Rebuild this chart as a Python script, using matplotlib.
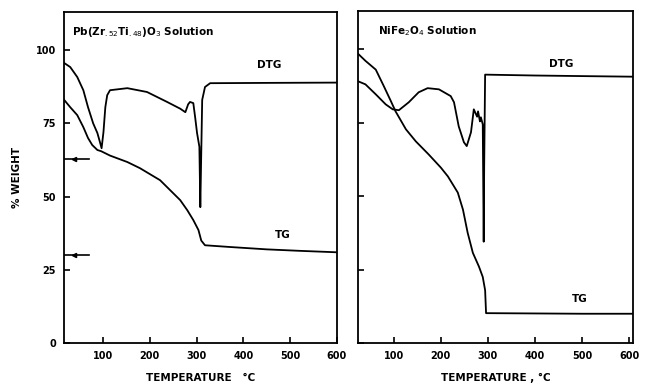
import matplotlib.pyplot as plt

# Left panel: Pb(Zr.52Ti.48)O3 solution
pzt_tg_t = [17, 30, 45, 58, 68, 77, 88, 96, 115, 152, 179, 222, 265, 280, 293, 304, 310, 318, 372, 450, 520, 600]
pzt_tg_w = [83, 80.5, 77.8, 73.7, 70, 67.6, 65.9, 65.5, 64, 61.8, 59.7, 55.6, 48.8, 45.4, 42, 38.6, 35, 33.4, 32.8, 32,
            31.5, 31]

pzt_dtg_t = [17, 30, 45, 58, 68, 79, 88, 94, 97, 101, 105, 109, 115, 152, 194, 237, 265, 276, 282, 286, 293, 297, 301,
             306, 308, 310, 312, 318, 329, 450, 600]
pzt_dtg_w = [95.6, 94.2, 90.8, 86.3, 80.5, 75, 71.7, 68.3, 66.5, 72, 80.5, 84.6, 86.3, 87, 85.7, 82.3, 80, 78.8, 81.5,
             82.3, 81.9, 77, 71.7, 67, 46.4, 65, 83, 87.4, 88.7, 88.8, 88.9]

# Right panel: NiFe2O4 solution
nfo_tg_t = [25, 40, 62, 79, 94, 104, 126, 147, 174, 200, 215, 236, 247, 257, 268, 281, 289, 294, 296, 400, 500, 608]
nfo_tg_w = [98.3, 96, 93, 87.4, 82.3, 78.8, 72.7, 68.6, 64.2, 59.7, 56.7, 51.2, 45.4, 37.5, 30.7, 26, 22.5, 18, 10.2,
            10.1, 10, 10]

nfo_dtg_t = [25, 40, 62, 83, 98, 111, 132, 153, 172, 196, 221, 228, 238, 249, 255, 264, 270, 277, 279, 283, 285, 289,
             290, 291, 292, 294, 400, 500, 608]
nfo_dtg_w = [89, 88, 84.6, 81.2, 79.5, 79.2, 81.9, 85.3, 86.7, 86.3, 84, 81.9, 73.7, 68.3, 67, 71.7, 79.5, 77, 78.8,
             75.4, 76.8, 74.4, 55, 34.5, 60, 91.3, 91, 90.8, 90.6]

x_ticks = [100, 200, 300, 400, 500, 600]
y_ticks = [0, 25, 50, 75, 100]
pzt_marks = [62.8, 30]

plt.rcParams['font.family'] = 'DejaVu Sans'
fig = plt.figure(figsize=(6.48, 3.86), dpi=100)
ax1 = fig.add_axes([0.099, 0.111, 0.421, 0.858])
ax2 = fig.add_axes([0.553, 0.111, 0.424, 0.861])

for ax in (ax1, ax2):
    ax.set_ylim(0, 113)
    ax.set_xticks(x_ticks)
    ax.set_yticks(y_ticks)
    ax.tick_params(direction='in', length=4, width=1.2, labelsize=7, pad=6)
    for lab in ax.get_xticklabels() + ax.get_yticklabels():
        lab.set_fontweight('bold')
    for s in ax.spines.values():
        s.set_linewidth(1.3)

ax1.set_xlim(17, 600)
ax2.set_xlim(25, 608)

ax1.plot(pzt_tg_t, pzt_tg_w, color='black', lw=1.3)
ax1.plot(pzt_dtg_t, pzt_dtg_w, color='black', lw=1.3)
for m in pzt_marks:
    ax1.plot([17, 70], [m, m], color='black', lw=1.2)
    ax1.plot([38], [m], marker='<', color='black', ms=3)

ax1.text(34, 106, r'Pb(Zr$_{.52}$Ti$_{.48}$)O$_3$ Solution', fontsize=7.5, fontweight='bold', va='center')
ax1.text(455, 95, 'DTG', fontsize=7.5, fontweight='bold', va='center', ha='center')
ax1.text(485, 37, 'TG', fontsize=7.5, fontweight='bold', va='center', ha='center')
ax1.set_ylabel('% WEIGHT', fontsize=7.5, fontweight='bold', labelpad=10)
ax1.set_xlabel('TEMPERATURE   °C', fontsize=7.5, fontweight='bold', labelpad=8)

ax2.plot(nfo_tg_t, nfo_tg_w, color='black', lw=1.3)
ax2.plot(nfo_dtg_t, nfo_dtg_w, color='black', lw=1.3)
ax2.set_yticklabels([])
ax2.text(66, 106, r'NiFe$_2$O$_4$ Solution', fontsize=7.5, fontweight='bold', va='center')
ax2.text(455, 95, 'DTG', fontsize=7.5, fontweight='bold', va='center', ha='center')
ax2.text(494, 15, 'TG', fontsize=7.5, fontweight='bold', va='center', ha='center')
ax2.set_xlabel('TEMPERATURE , °C', fontsize=7.5, fontweight='bold', labelpad=8)

fig.savefig('out.png', dpi=100)
